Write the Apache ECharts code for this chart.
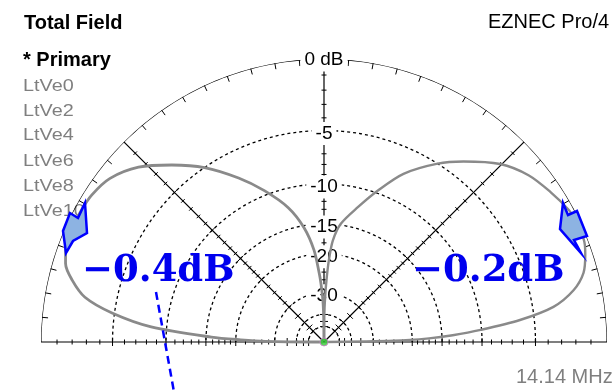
<!DOCTYPE html>
<html>
<head>
<meta charset="utf-8">
<script src="https://cdn.jsdelivr.net/npm/echarts@6/dist/echarts.min.js"></script>
<style>
  html, body { margin: 0; padding: 0; background: #fff; }
  #chart { width: 616px; height: 390px; }
</style>
</head>
<body>
<div id="chart"></div>
<script>
// Total field elevation pattern, plotted on the ARRL log scale (0.89 per 2 dB)
const rightLobeAngles = [0, 1, 2, 3, 4.4, 6.4, 8.7, 11.7, 14.9, 18.6, 21, 23.7, 26, 28.4, 33.5, 39.2, 45.3, 52.3, 57.5, 64.7, 70.4, 75.9, 81.9, 85, 86.5, 87.5, 88.5, 89.5, 90];
const rightLobeDb     = [-99, -24, -17, -13.5, -10.1, -6.2, -3.4, -1.8, -0.9, -0.45, -0.25, -0.2, -0.22, -0.3, -0.7, -1.2, -2.1, -3.7, -5.0, -7.2, -9.7, -12.2, -14.8, -17.5, -21, -25, -31, -42, -99];

const leftLobeAngles = [90, 90.5, 91.5, 93, 94, 96.2, 99.9, 104.9, 111.5, 117.5, 124.4, 130.7, 136.7, 142.6, 147.7, 151.6, 155, 158, 160, 163.1, 166.2, 169.4, 172.2, 175, 177.5, 178.5, 179.3, 180];
const leftLobeDb     = [-99, -45, -33, -27, -24.2, -19.2, -15.3, -12.2, -9.5, -7.3, -5.0, -3.3, -1.8, -0.85, -0.5, -0.42, -0.4, -0.42, -0.5, -0.8, -1.5, -2.6, -4.8, -8.4, -15.8, -21, -27, -99];

const ringDb = [-5, -10, -15, -20, -30, -40, -50];
const ringLabelDb = [0, -5, -10, -15, -20, -30];
const ringLabelText = ['0 dB', '-5', '-10', '-15', '-20', '-30'];

const titleText = 'Total Field';
const programText = 'EZNEC Pro/4';
const freqText = '14.14 MHz';
const legendTitle = '* Primary';
const legendItems = ['LtVe0', 'LtVe2', 'LtVe4', 'LtVe6', 'LtVe8', 'LtVe10'];
const peakLabels = ['\u22120.4dB', '\u22120.2dB'];

// ARRL log scale: radius shrinks by 0.89 for every 2 dB down
const arrl = db => Math.pow(0.89, -db / 2);

const CENTER = [324, 342];
const RADIUS = 283;

// half-circle helper for the grid rings
function halfRing(r) {
  const pts = [];
  for (let a = 0; a <= 180; a += 1) pts.push([r, a]);
  return pts;
}

// tick marks: [radius, angle, mode, length]  mode 0 = across spoke, 1 = inward from rim
const tickData = [];
const spokeAngles = [0, 45, 90, 135, 180];
const tickSteps = [];
for (let d = -1; d >= -20; d--) tickSteps.push(d);
for (let d = -22; d >= -30; d -= 2) tickSteps.push(d);
tickSteps.push(-35, -40, -45, -50);
spokeAngles.forEach(a => {
  tickSteps.forEach(d => {
    tickData.push([arrl(d), a, 0, d % 5 === 0 ? 8 : 5]);
  });
});
for (let a = 5; a < 180; a += 5) {
  if (a === 45 || a === 90 || a === 135) continue;
  tickData.push([1, a, 1, 6]);
}

function renderTick(params, api) {
  const r = api.value(0), a = api.value(1), mode = api.value(2), len = api.value(3);
  const p = api.coord([r, a]);
  const rad = a * Math.PI / 180;
  const ux = Math.cos(rad), uy = -Math.sin(rad);
  let x1, y1, x2, y2;
  if (mode === 0) {
    const px = -uy, py = ux;
    x1 = p[0] - px * len / 2; y1 = p[1] - py * len / 2;
    x2 = p[0] + px * len / 2; y2 = p[1] + py * len / 2;
  } else {
    x1 = p[0]; y1 = p[1];
    x2 = p[0] - ux * len; y2 = p[1] - uy * len;
  }
  return { type: 'line', shape: { x1, y1, x2, y2 }, style: { stroke: '#000', lineWidth: 1 } };
}

const series = [];

ringDb.forEach(d => {
  series.push({
    type: 'line', coordinateSystem: 'polar', silent: true, showSymbol: false, z: 1,
    data: halfRing(arrl(d)),
    lineStyle: { color: '#000', width: 1.3, type: [3, 3] }
  });
});

// rim
const rimSeriesIndex = series.length;
series.push({
  type: 'line', coordinateSystem: 'polar', silent: true, showSymbol: false, z: 1,
  data: halfRing(1), lineStyle: { color: '#000', width: 1.2 }
});

// baseline, zenith axis and 45 degree spokes
[[[1, 180], [0, 180], [0, 0], [1, 0]], [[0, 90], [1, 90]], [[0, 45], [1, 45]], [[0, 135], [1, 135]]].forEach(seg => {
  series.push({
    type: 'line', coordinateSystem: 'polar', silent: true, showSymbol: false, z: 1,
    data: seg, lineStyle: { color: '#000', width: 1.2 }
  });
});

series.push({
  type: 'custom', coordinateSystem: 'polar', silent: true, z: 1,
  renderItem: renderTick, data: tickData
});

// pattern
[[leftLobeAngles, leftLobeDb, 2.8], [rightLobeAngles, rightLobeDb, 2.4]].forEach(([angles, db, w]) => {
  series.push({
    type: 'line', coordinateSystem: 'polar', silent: true, showSymbol: false, z: 4,
    smooth: 0.3,
    data: angles.map((a, i) => [arrl(db[i]), a]),
    lineStyle: { color: '#8a8a8a', width: w }
  });
});

// feed point marker
series.push({
  type: 'scatter', coordinateSystem: 'polar', silent: true, z: 5,
  data: [[0, 0]], symbolSize: 8,
  itemStyle: { color: '#33cc33', borderColor: '#d27ad2', borderWidth: 1 }
});

const grayText = '#7f7f7f';
const elements = [
  { type: 'text', x: 24, y: 23, z: 1, style: { text: titleText, font: 'bold 20px "Liberation Sans"', fill: '#000', verticalAlign: 'middle' } },
  { type: 'text', x: 488, y: 22, z: 1, style: { text: programText, font: '20px "Liberation Sans"', fill: '#000', verticalAlign: 'middle' } },
  { type: 'text', x: 516, y: 377, z: 1, style: { text: freqText, font: '20px "Liberation Sans"', fill: grayText, verticalAlign: 'middle' } },
  { type: 'text', x: 23, y: 60, z: 1, style: { text: legendTitle, font: 'bold 20px "Liberation Sans"', fill: '#000', verticalAlign: 'middle' } }
];
const legendY = [86, 111.5, 135.5, 161, 186, 211];
legendItems.forEach((t, i) => {
  elements.push({ type: 'text', x: 23, y: legendY[i], z: 0, scaleX: 1.2,
    style: { text: t, font: '16.5px "Liberation Sans"', fill: grayText, verticalAlign: 'middle' } });
});

// peak markers
const arrowStyle = { fill: '#8db3e2', stroke: '#0000ff', lineWidth: 2.5, lineJoin: 'miter' };
elements.push({ type: 'polygon', z: 20, shape: { points: [[85, 203], [87, 233], [73, 241], [66, 253], [63, 231], [70, 213], [78, 218]] }, style: arrowStyle });
elements.push({ type: 'polygon', z: 20, shape: { points: [[563, 203], [568, 215], [577, 211], [587, 236], [574, 240], [581, 253], [560, 229]] }, style: arrowStyle });
elements.push({ type: 'line', z: 20, shape: { x1: 156, y1: 292, x2: 174, y2: 392 }, style: { stroke: '#0000ff', lineWidth: 2.5, lineDash: [8, 5] } });
elements.push({ type: 'text', x: 82, y: 271, z: 21, style: { text: peakLabels[0], font: 'bold 37px "DejaVu Serif"', fill: '#0000ee', verticalAlign: 'middle' } });
elements.push({ type: 'text', x: 412, y: 271, z: 21, style: { text: peakLabels[1], font: 'bold 37px "DejaVu Serif"', fill: '#0000ee', verticalAlign: 'middle' } });

const chart = echarts.init(document.getElementById('chart'), null, { renderer: 'canvas' });
chart.setOption({
  animation: false,
  backgroundColor: '#fff',
  polar: { center: CENTER, radius: RADIUS },
  angleAxis: { type: 'value', min: 0, max: 360, startAngle: 0, clockwise: false, show: false },
  radiusAxis: { type: 'value', min: 0, max: 1, show: false },
  graphic: { elements },
  series
});

// dB labels on the zenith axis, placed through the polar scale, blanking the grid behind them
ringLabelDb.forEach((d, i) => {
  const p = chart.convertToPixel({ seriesIndex: rimSeriesIndex }, [arrl(d), 90]);
  const isTop = i === 0;
  elements.push({
    type: 'text', x: p[0], y: p[1] + (isTop ? 1 : 3), z: 3,
    style: {
      text: ringLabelText[i],
      fontFamily: 'Liberation Sans', fontSize: isTop ? 19 : 19,
      fill: '#000', align: 'center', verticalAlign: 'middle',
      backgroundColor: '#fff', padding: [2, 4, 2, 4]
    }
  });
});
chart.setOption({ graphic: { elements } }, { replaceMerge: ['graphic'] });
</script>
</body>
</html>
